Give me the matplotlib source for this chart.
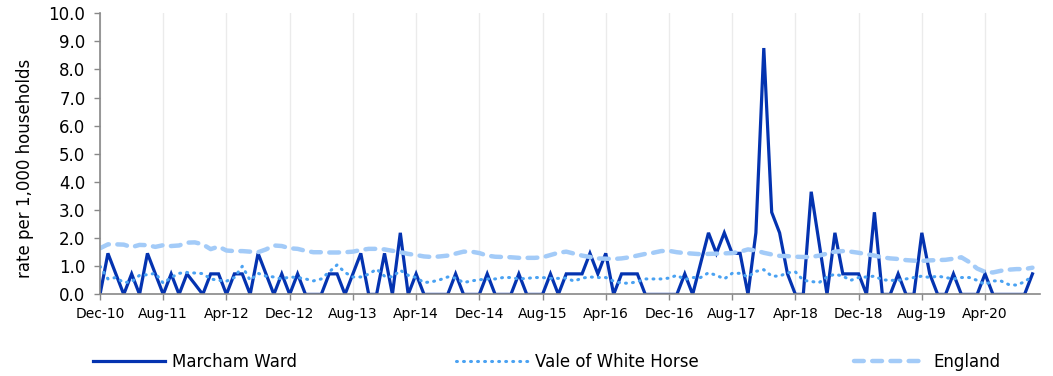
import numpy as np
import matplotlib
matplotlib.use("Agg")
import matplotlib.pyplot as plt
from matplotlib import rcParams

rcParams['font.family'] = ['DejaVu Sans']

# monthly rates, Dec-10 .. Oct-20
marcham = [0, 1.46, 0.73, 0, 0.73, 0, 1.46, 0.73, 0, 0.73,
           0, 0.73, 0.37, 0, 0.73, 0.73, 0, 0.73, 0.73, 0,
           1.46, 0.73, 0, 0.73, 0, 0.73, 0, 0, 0, 0.73,
           0.73, 0, 0.73, 1.46, 0, 0, 1.46, 0, 2.19, 0,
           0.73, 0, 0, 0, 0, 0.73, 0, 0, 0, 0.73,
           0, 0, 0, 0.73, 0, 0, 0, 0.73, 0, 0.73,
           0.73, 0.73, 1.46, 0.73, 1.46, 0, 0.73, 0.73, 0.73, 0,
           0, 0, 0, 0, 0.73, 0, 1.1, 2.19, 1.46, 2.19,
           1.46, 1.46, 0, 2.19, 8.76, 2.92, 2.19, 0.73, 0, 0,
           3.65, 1.83, 0, 2.19, 0.73, 0.73, 0.73, 0, 2.92, 0,
           0, 0.73, 0, 0, 2.19, 0.73, 0, 0, 0.73, 0,
           0, 0, 0.73, 0, 0, 0, 0, 0, 0.73]

vale = [1.0, 0.55, 0.6, 0.42, 0.45, 0.68, 0.7, 0.75, 0.4, 0.6,
        0.75, 0.78, 0.76, 0.74, 0.55, 0.5, 0.47, 0.6, 1.0, 0.5,
        0.75, 0.65, 0.62, 0.55, 0.62, 0.6, 0.55, 0.48, 0.55, 0.8,
        1.05, 0.78, 0.62, 0.62, 0.72, 0.9, 0.65, 0.62, 0.86, 0.68,
        0.6, 0.42, 0.45, 0.52, 0.62, 0.58, 0.42, 0.48, 0.52, 0.55,
        0.55, 0.6, 0.6, 0.55, 0.57, 0.6, 0.6, 0.57, 0.57, 0.58,
        0.47, 0.58, 0.62, 0.6, 0.6, 0.47, 0.4, 0.4, 0.45, 0.55,
        0.55, 0.55, 0.58, 0.68, 0.53, 0.6, 0.6, 0.77, 0.68, 0.55,
        0.75, 0.75, 0.62, 0.82, 0.88, 0.65, 0.65, 0.77, 0.8, 0.5,
        0.46, 0.42, 0.62, 0.72, 0.65, 0.5, 0.6, 0.62, 0.65, 0.52,
        0.5, 0.5, 0.55, 0.6, 0.65, 0.6, 0.65, 0.6, 0.55, 0.6,
        0.6, 0.5, 0.35, 0.48, 0.48, 0.35, 0.33, 0.45, 0.65]

england = [1.64, 1.78, 1.78, 1.77, 1.68, 1.76, 1.75, 1.69, 1.75, 1.72,
           1.74, 1.84, 1.85, 1.78, 1.61, 1.70, 1.56, 1.54, 1.54, 1.52,
           1.50, 1.60, 1.74, 1.72, 1.64, 1.62, 1.55, 1.50, 1.50, 1.49,
           1.49, 1.50, 1.52, 1.58, 1.62, 1.62, 1.60, 1.55, 1.50, 1.44,
           1.40, 1.35, 1.33, 1.35, 1.38, 1.45, 1.52, 1.52, 1.47, 1.38,
           1.34, 1.33, 1.32, 1.30, 1.30, 1.30, 1.32, 1.40, 1.48, 1.52,
           1.45, 1.38, 1.33, 1.28, 1.27, 1.26, 1.28, 1.32, 1.38, 1.44,
           1.48, 1.54, 1.55, 1.50, 1.47, 1.45, 1.43, 1.44, 1.45, 1.46,
           1.47, 1.52, 1.60, 1.56, 1.48, 1.42, 1.37, 1.36, 1.34, 1.33,
           1.33, 1.38, 1.45, 1.52, 1.54, 1.52, 1.48, 1.43, 1.38, 1.32,
           1.28, 1.26, 1.22, 1.20, 1.19, 1.21, 1.22, 1.23, 1.27, 1.32,
           1.15, 0.92, 0.80, 0.78, 0.84, 0.88, 0.90, 0.90, 0.95]

tick_labels = ['Dec-10', 'Aug-11', 'Apr-12', 'Dec-12', 'Aug-13', 'Apr-14',
               'Dec-14', 'Aug-15', 'Apr-16', 'Dec-16', 'Aug-17', 'Apr-18',
               'Dec-18', 'Aug-19', 'Apr-20']

x = np.arange(len(marcham))
tick_pos = np.arange(len(tick_labels)) * 8

fig = plt.figure(figsize=(10.53, 3.76), dpi=100)
ax = fig.add_axes([0.095, 0.217, 0.893, 0.748])

l1, = ax.plot(x, marcham, color='#0433b0', lw=2.3, solid_joinstyle='miter',
              label='Marcham Ward')
l2, = ax.plot(x, vale, color='#4aa2f2', lw=2.2, linestyle=(0, (0.3, 2.0)),
              dash_capstyle='round', label='Vale of White Horse')
l3, = ax.plot(x, england, color='#a3cbf8', lw=3.2, linestyle=(0, (2.2, 1.9)),
              dash_capstyle='round', label='England')

ax.set_xlim(0, 119)
ax.set_ylim(0, 10)
ax.set_yticks(np.arange(0, 10.1, 1))
ax.set_yticklabels(['%.1f' % v for v in np.arange(0, 10.1, 1)], fontsize=12)
ax.set_xticks(tick_pos)
ax.set_xticklabels(tick_labels, fontsize=10)
ax.tick_params(axis='both', direction='out', length=4, width=1, color='#888888')
ax.tick_params(axis='x', pad=5)
ax.tick_params(axis='y', pad=6.5)
ax.xaxis.grid(True, color='#ebebeb', lw=1)
ax.set_axisbelow(True)

for s in ['top', 'right']:
    ax.spines[s].set_visible(False)
for s in ['left', 'bottom']:
    ax.spines[s].set_color('#888888')
    ax.spines[s].set_linewidth(1.2)

ax.set_ylabel('rate per 1,000 households', fontsize=12)
ax.yaxis.set_label_coords(-0.07, 0.447)

# one legend entry per column, spread along the bottom
for h, xpos in zip([l1, l2, l3], [0.0883, 0.433, 0.811]):
    fig.legend(handles=[h], loc='center left', bbox_to_anchor=(xpos, 0.037),
               frameon=False, fontsize=12, handlelength=4.3, handletextpad=0.45,
               borderaxespad=0, borderpad=0)

fig.savefig('out.png', dpi=100)
